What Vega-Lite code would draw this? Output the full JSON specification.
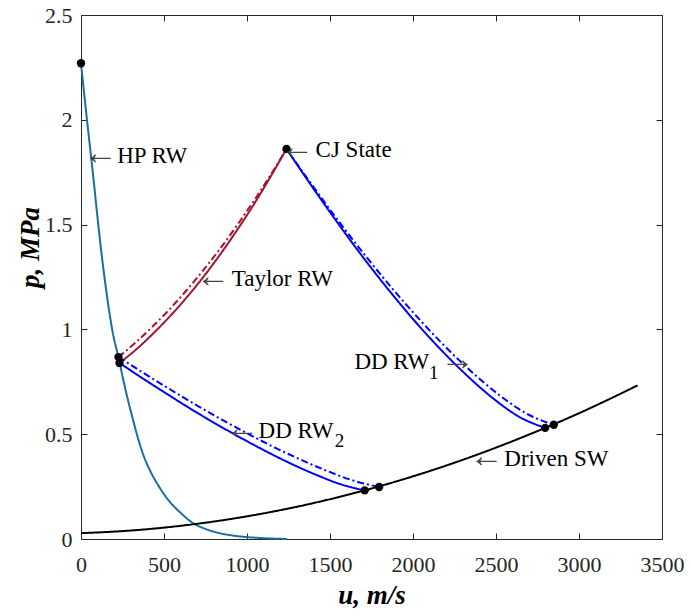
{
  "$schema": "https://vega.github.io/schema/vega-lite/v6.json",
  "width": 581,
  "height": 524,
  "autosize": {"type": "none"},
  "padding": {"left": 81, "top": 15, "right": 29, "bottom": 77},
  "background": "white",
  "config": {"view": {"stroke": null}},
  "datasets": {
    "curves": [
      {"s": "HP", "d": "solid", "u": 0, "p": 2.27},
      {"s": "HP", "d": "solid", "u": 25, "p": 2.08},
      {"s": "HP", "d": "solid", "u": 50, "p": 1.9},
      {"s": "HP", "d": "solid", "u": 75, "p": 1.72},
      {"s": "HP", "d": "solid", "u": 100, "p": 1.53},
      {"s": "HP", "d": "solid", "u": 130, "p": 1.32},
      {"s": "HP", "d": "solid", "u": 160, "p": 1.14},
      {"s": "HP", "d": "solid", "u": 190, "p": 0.99},
      {"s": "HP", "d": "solid", "u": 226, "p": 0.865},
      {"s": "HP", "d": "solid", "u": 260, "p": 0.74},
      {"s": "HP", "d": "solid", "u": 290, "p": 0.64},
      {"s": "HP", "d": "solid", "u": 313, "p": 0.57},
      {"s": "HP", "d": "solid", "u": 333, "p": 0.51},
      {"s": "HP", "d": "solid", "u": 376, "p": 0.40},
      {"s": "HP", "d": "solid", "u": 420, "p": 0.32},
      {"s": "HP", "d": "solid", "u": 470, "p": 0.25},
      {"s": "HP", "d": "solid", "u": 527, "p": 0.185},
      {"s": "HP", "d": "solid", "u": 600, "p": 0.125},
      {"s": "HP", "d": "solid", "u": 667, "p": 0.08},
      {"s": "HP", "d": "solid", "u": 750, "p": 0.048},
      {"s": "HP", "d": "solid", "u": 833, "p": 0.028},
      {"s": "HP", "d": "solid", "u": 920, "p": 0.016},
      {"s": "HP", "d": "solid", "u": 1000, "p": 0.009},
      {"s": "HP", "d": "solid", "u": 1100, "p": 0.004},
      {"s": "HP", "d": "solid", "u": 1240, "p": 0.0},

      {"s": "Taylor", "d": "solid", "u": 232, "p": 0.84},
      {"s": "Taylor", "d": "solid", "u": 333, "p": 0.905},
      {"s": "Taylor", "d": "solid", "u": 433, "p": 0.979},
      {"s": "Taylor", "d": "solid", "u": 534, "p": 1.061},
      {"s": "Taylor", "d": "solid", "u": 634, "p": 1.15},
      {"s": "Taylor", "d": "solid", "u": 735, "p": 1.248},
      {"s": "Taylor", "d": "solid", "u": 836, "p": 1.355},
      {"s": "Taylor", "d": "solid", "u": 936, "p": 1.469},
      {"s": "Taylor", "d": "solid", "u": 1037, "p": 1.591},
      {"s": "Taylor", "d": "solid", "u": 1137, "p": 1.722},
      {"s": "Taylor", "d": "solid", "u": 1238, "p": 1.861},

      {"s": "TaylorD", "d": "dashdot", "u": 226, "p": 0.868},
      {"s": "TaylorD", "d": "dashdot", "u": 327, "p": 0.936},
      {"s": "TaylorD", "d": "dashdot", "u": 428, "p": 1.011},
      {"s": "TaylorD", "d": "dashdot", "u": 530, "p": 1.093},
      {"s": "TaylorD", "d": "dashdot", "u": 631, "p": 1.182},
      {"s": "TaylorD", "d": "dashdot", "u": 732, "p": 1.278},
      {"s": "TaylorD", "d": "dashdot", "u": 833, "p": 1.38},
      {"s": "TaylorD", "d": "dashdot", "u": 934, "p": 1.49},
      {"s": "TaylorD", "d": "dashdot", "u": 1036, "p": 1.607},
      {"s": "TaylorD", "d": "dashdot", "u": 1137, "p": 1.73},
      {"s": "TaylorD", "d": "dashdot", "u": 1238, "p": 1.861},

      {"s": "RW1", "d": "solid", "u": 1238, "p": 1.861},
      {"s": "RW1", "d": "solid", "u": 1394, "p": 1.679},
      {"s": "RW1", "d": "solid", "u": 1550, "p": 1.504},
      {"s": "RW1", "d": "solid", "u": 1705, "p": 1.338},
      {"s": "RW1", "d": "solid", "u": 1861, "p": 1.181},
      {"s": "RW1", "d": "solid", "u": 2017, "p": 1.034},
      {"s": "RW1", "d": "solid", "u": 2173, "p": 0.899},
      {"s": "RW1", "d": "solid", "u": 2329, "p": 0.777},
      {"s": "RW1", "d": "solid", "u": 2484, "p": 0.67},
      {"s": "RW1", "d": "solid", "u": 2640, "p": 0.583},
      {"s": "RW1", "d": "solid", "u": 2796, "p": 0.53},

      {"s": "RW1D", "d": "dashdot", "u": 1238, "p": 1.861},
      {"s": "RW1D", "d": "dashdot", "u": 1399, "p": 1.681},
      {"s": "RW1D", "d": "dashdot", "u": 1560, "p": 1.508},
      {"s": "RW1D", "d": "dashdot", "u": 1721, "p": 1.344},
      {"s": "RW1D", "d": "dashdot", "u": 1882, "p": 1.189},
      {"s": "RW1D", "d": "dashdot", "u": 2043, "p": 1.044},
      {"s": "RW1D", "d": "dashdot", "u": 2204, "p": 0.91},
      {"s": "RW1D", "d": "dashdot", "u": 2365, "p": 0.789},
      {"s": "RW1D", "d": "dashdot", "u": 2526, "p": 0.683},
      {"s": "RW1D", "d": "dashdot", "u": 2687, "p": 0.597},
      {"s": "RW1D", "d": "dashdot", "u": 2848, "p": 0.545},

      {"s": "RW2", "d": "solid", "u": 232, "p": 0.84},
      {"s": "RW2", "d": "solid", "u": 380, "p": 0.762},
      {"s": "RW2", "d": "solid", "u": 528, "p": 0.687},
      {"s": "RW2", "d": "solid", "u": 675, "p": 0.614},
      {"s": "RW2", "d": "solid", "u": 823, "p": 0.545},
      {"s": "RW2", "d": "solid", "u": 971, "p": 0.479},
      {"s": "RW2", "d": "solid", "u": 1118, "p": 0.417},
      {"s": "RW2", "d": "solid", "u": 1266, "p": 0.359},
      {"s": "RW2", "d": "solid", "u": 1414, "p": 0.307},
      {"s": "RW2", "d": "solid", "u": 1561, "p": 0.262},
      {"s": "RW2", "d": "solid", "u": 1709, "p": 0.232},

      {"s": "RW2D", "d": "dashdot", "u": 226, "p": 0.868},
      {"s": "RW2D", "d": "dashdot", "u": 383, "p": 0.789},
      {"s": "RW2D", "d": "dashdot", "u": 540, "p": 0.712},
      {"s": "RW2D", "d": "dashdot", "u": 697, "p": 0.638},
      {"s": "RW2D", "d": "dashdot", "u": 854, "p": 0.567},
      {"s": "RW2D", "d": "dashdot", "u": 1011, "p": 0.5},
      {"s": "RW2D", "d": "dashdot", "u": 1168, "p": 0.436},
      {"s": "RW2D", "d": "dashdot", "u": 1325, "p": 0.378},
      {"s": "RW2D", "d": "dashdot", "u": 1482, "p": 0.325},
      {"s": "RW2D", "d": "dashdot", "u": 1639, "p": 0.279},
      {"s": "RW2D", "d": "dashdot", "u": 1796, "p": 0.248},

      {"s": "SW", "d": "solid", "u": 0, "p": 0.028},
      {"s": "SW", "d": "solid", "u": 250, "p": 0.0377},
      {"s": "SW", "d": "solid", "u": 500, "p": 0.0543},
      {"s": "SW", "d": "solid", "u": 750, "p": 0.0778},
      {"s": "SW", "d": "solid", "u": 1000, "p": 0.1082},
      {"s": "SW", "d": "solid", "u": 1250, "p": 0.1455},
      {"s": "SW", "d": "solid", "u": 1500, "p": 0.1898},
      {"s": "SW", "d": "solid", "u": 1750, "p": 0.2409},
      {"s": "SW", "d": "solid", "u": 2000, "p": 0.299},
      {"s": "SW", "d": "solid", "u": 2250, "p": 0.364},
      {"s": "SW", "d": "solid", "u": 2500, "p": 0.436},
      {"s": "SW", "d": "solid", "u": 2750, "p": 0.515},
      {"s": "SW", "d": "solid", "u": 3000, "p": 0.6},
      {"s": "SW", "d": "solid", "u": 3250, "p": 0.693},
      {"s": "SW", "d": "solid", "u": 3353, "p": 0.733}
    ],
    "dots": [
      {"u": 0, "p": 2.27},
      {"u": 226, "p": 0.868},
      {"u": 232, "p": 0.84},
      {"u": 1238, "p": 1.861},
      {"u": 1709, "p": 0.232},
      {"u": 1796, "p": 0.248},
      {"u": 2796, "p": 0.53},
      {"u": 2848, "p": 0.545}
    ],
    "labels": [
      {"label": "HP RW", "u": 218, "p": 1.829},
      {"label": "CJ State", "u": 1413, "p": 1.854},
      {"label": "Taylor RW", "u": 908, "p": 1.24},
      {"label": "DD RW", "u": 1647, "p": 0.846},
      {"label": "DD RW", "u": 1070, "p": 0.517},
      {"label": "Driven SW", "u": 2550, "p": 0.381}
    ],
    "arrows": [
      {"label": "←", "u": 15, "p": 1.839},
      {"label": "←", "u": 1199, "p": 1.864},
      {"label": "←", "u": 693, "p": 1.25},
      {"label": "→", "u": 2165, "p": 0.856},
      {"label": "←", "u": 868, "p": 0.527},
      {"label": "←", "u": 2341, "p": 0.391}
    ],
    "subs": [
      {"label": "1", "u": 2097, "p": 0.79},
      {"label": "2", "u": 1529, "p": 0.467}
    ]
  },
  "layer": [
    {
      "data": {"name": "curves"},
      "mark": {"type": "line", "strokeWidth": 2, "interpolate": "monotone"},
      "encoding": {
        "x": {
          "field": "u", "type": "quantitative",
          "scale": {"domain": [0, 3500], "nice": false, "zero": false},
          "axis": {
            "orient": "bottom", "values": [0, 500, 1000, 1500, 2000, 2500, 3000, 3500],
            "format": "d", "grid": false, "tickSize": -6, "tickColor": "#262626", "domainColor": "#262626",
            "labelFont": "Liberation Serif", "labelFontSize": 22, "labelColor": "#262626",
            "labelPadding": 21, "labelFlush": false, "labelOverlap": false,
            "title": "u, m/s", "titleFont": "Liberation Serif", "titleFontSize": 27,
            "titleFontStyle": "italic", "titleFontWeight": "bold", "titleColor": "#000000",
            "titleY": 64, "titleBaseline": "alphabetic"
          }
        },
        "y": {
          "field": "p", "type": "quantitative",
          "scale": {"domain": [0, 2.5], "nice": false, "zero": false},
          "axis": {
            "orient": "left", "values": [0, 0.5, 1, 1.5, 2, 2.5],
            "format": "~g", "grid": false, "tickSize": -6, "tickColor": "#262626", "domainColor": "#262626",
            "labelFont": "Liberation Serif", "labelFontSize": 22, "labelColor": "#262626",
            "labelPadding": 15, "labelFlush": false, "labelOverlap": false,
            "title": "p, MPa", "titleFont": "Liberation Serif", "titleFontSize": 27,
            "titleFontStyle": "italic", "titleFontWeight": "bold", "titleColor": "#000000",
            "titleX": -51, "titleY": 232, "titleAlign": "center", "titleBaseline": "middle", "titleAngle": -90
          }
        },
        "color": {
          "field": "s", "type": "nominal", "legend": null,
          "scale": {
            "domain": ["HP", "Taylor", "TaylorD", "RW1", "RW1D", "RW2", "RW2D", "SW"],
            "range": ["#1a6ea2", "#a2142f", "#a2142f", "#0000ff", "#0000ff", "#0000ff", "#0000ff", "#000000"]
          }
        },
        "strokeDash": {
          "field": "d", "type": "nominal", "legend": null,
          "scale": {"domain": ["solid", "dashdot"], "range": [[1, 0], [7, 3, 2, 3]]}
        }
      }
    },
    {
      "data": {"name": "dots"},
      "mark": {"type": "point", "filled": true, "size": 70, "opacity": 1, "color": "#000000"},
      "encoding": {
        "x": {
          "field": "u", "type": "quantitative",
          "scale": {"domain": [0, 3500], "nice": false, "zero": false},
          "axis": {
            "orient": "top", "values": [0, 500, 1000, 1500, 2000, 2500, 3000, 3500],
            "labels": false, "title": null, "grid": false, "tickSize": -6,
            "tickColor": "#262626", "domainColor": "#262626"
          }
        },
        "y": {
          "field": "p", "type": "quantitative",
          "scale": {"domain": [0, 2.5], "nice": false, "zero": false},
          "axis": {
            "orient": "right", "values": [0, 0.5, 1, 1.5, 2, 2.5],
            "labels": false, "title": null, "grid": false, "tickSize": -6,
            "tickColor": "#262626", "domainColor": "#262626"
          }
        }
      }
    },
    {
      "data": {"name": "labels"},
      "mark": {"type": "text", "align": "left", "baseline": "middle", "font": "Liberation Serif", "fontSize": 23, "color": "#000000"},
      "encoding": {
        "x": {"field": "u", "type": "quantitative", "scale": {"domain": [0, 3500], "nice": false, "zero": false}, "axis": null},
        "y": {"field": "p", "type": "quantitative", "scale": {"domain": [0, 2.5], "nice": false, "zero": false}, "axis": null},
        "text": {"field": "label", "type": "nominal"}
      }
    },
    {
      "data": {"name": "arrows"},
      "mark": {"type": "text", "align": "left", "baseline": "middle", "font": "Liberation Serif", "fontSize": 34, "color": "#444444"},
      "encoding": {
        "x": {"field": "u", "type": "quantitative", "scale": {"domain": [0, 3500], "nice": false, "zero": false}, "axis": null},
        "y": {"field": "p", "type": "quantitative", "scale": {"domain": [0, 2.5], "nice": false, "zero": false}, "axis": null},
        "text": {"field": "label", "type": "nominal"}
      }
    },
    {
      "data": {"name": "subs"},
      "mark": {"type": "text", "align": "left", "baseline": "middle", "font": "Liberation Serif", "fontSize": 19, "color": "#000000"},
      "encoding": {
        "x": {"field": "u", "type": "quantitative", "scale": {"domain": [0, 3500], "nice": false, "zero": false}, "axis": null},
        "y": {"field": "p", "type": "quantitative", "scale": {"domain": [0, 2.5], "nice": false, "zero": false}, "axis": null},
        "text": {"field": "label", "type": "nominal"}
      }
    }
  ],
  "resolve": {"axis": {"x": "independent", "y": "independent"}}
}
